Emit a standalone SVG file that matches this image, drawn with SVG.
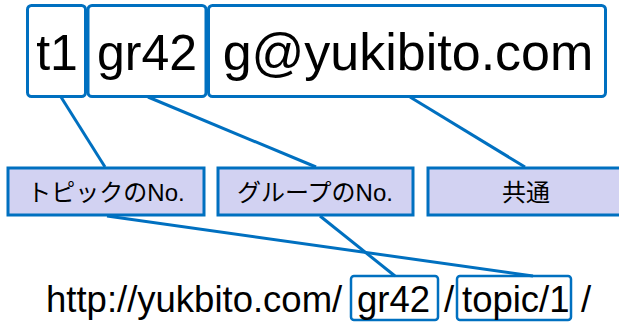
<svg xmlns="http://www.w3.org/2000/svg" width="619" height="322" viewBox="0 0 619 322">
<style>
.top{fill:#fff;stroke:#0070c0;stroke-width:3}
.mid{fill:#d2d2f2;stroke:#0070c0;stroke-width:3}
.bot{fill:none;stroke:#0070c0;stroke-width:2.5}
.ln{stroke:#0070c0;stroke-width:3;fill:none}
.t{font-family:"Liberation Sans",Arial,sans-serif;fill:#000}
.j{font-family:"Liberation Sans","Noto Sans CJK JP",sans-serif;fill:#000}
</style>
<rect width="619" height="322" fill="#fff"/>
<g id="connectors">
<line class="ln" x1="61" y1="97" x2="105" y2="167"/>
<line class="ln" x1="148" y1="97" x2="316" y2="167"/>
<line class="ln" x1="410" y1="97" x2="525" y2="167"/>
<line class="ln" x1="107" y1="216" x2="533" y2="276"/>
<line class="ln" x1="320" y1="216" x2="395" y2="276"/>
</g>
<g id="t1">
<rect class="top" x="27.5" y="5.5" width="58" height="91" rx="4"/>
<text class="t" x="57" y="70" font-size="50" text-anchor="middle">t1</text>
</g>
<g id="gr42">
<rect class="top" x="88" y="5.5" width="118" height="91" rx="4"/>
<text class="t" x="147" y="70" font-size="50" text-anchor="middle">gr42</text>
</g>
<g id="email">
<rect class="top" x="208.5" y="5.5" width="397" height="91" rx="4"/>
<text class="t" x="408" y="70" font-size="52" text-anchor="middle">g@yukibito.com</text>
</g>
<g id="topic-no">
<rect class="mid" x="8" y="168" width="196" height="47"/>
<text class="j" x="106" y="201" font-size="24" text-anchor="middle">トピックのNo.</text>
</g>
<g id="group-no">
<rect class="mid" x="218" y="168" width="195" height="47"/>
<text class="j" x="315" y="201" font-size="24" text-anchor="middle">グループのNo.</text>
</g>
<g id="common">
<rect class="mid" x="428" y="168" width="194" height="47"/>
<text class="j" x="526" y="201" font-size="24" text-anchor="middle">共通</text>
</g>
<g id="url">
<rect class="bot" x="351" y="276" width="87" height="44" rx="3"/>
<rect class="bot" x="457" y="276" width="114" height="44" rx="3"/>
<text class="t" y="312" font-size="36.5"><tspan x="46">http://yukbito.com/</tspan><tspan x="357">gr42</tspan><tspan x="444">/</tspan><tspan x="462">topic/1</tspan><tspan x="581">/</tspan></text>
</g>
</svg>
